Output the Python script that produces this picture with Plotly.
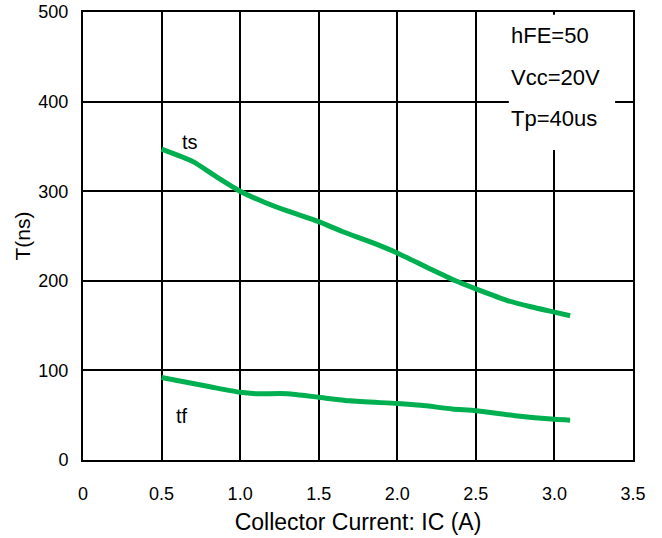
import plotly.graph_objects as go

# ---- data ----
ts_x = [0.5, 0.7, 0.85, 1.0, 1.15, 1.3, 1.5, 1.65, 1.85, 2.0, 2.2, 2.37, 2.5, 2.7, 2.85, 3.0, 3.1]
ts_y = [347, 333, 316, 300, 288, 278, 266, 255, 242, 231, 214, 200, 191, 178, 171, 165, 161]

tf_x = [0.5, 0.8, 1.0, 1.1, 1.3, 1.5, 1.7, 2.0, 2.15, 2.35, 2.5, 2.75, 3.0, 3.1]
tf_y = [92, 82, 75.5, 74, 74, 70, 66, 63, 61, 57, 55, 49.5, 45.5, 44.5]

x_tickvals = [0, 0.5, 1.0, 1.5, 2.0, 2.5, 3.0, 3.5]
x_ticktext = ["0", "0.5", "1.0", "1.5", "2.0", "2.5", "3.0", "3.5"]
y_tickvals = [0, 100, 200, 300, 400, 500]
y_ticktext = ["0", "100", "200", "300", "400", "500"]

cond_lines = ["hFE=50", "Vcc=20V", "Tp=40us"]
cond_y = [474, 427, 381]

FONT = "Liberation Sans, Arial, sans-serif"
GREEN = "#00b050"

fig = go.Figure()
fig.add_trace(go.Scatter(x=ts_x, y=ts_y, mode="lines", name="ts",
                         line=dict(color=GREEN, width=5, shape="spline", smoothing=0.6)))
fig.add_trace(go.Scatter(x=tf_x, y=tf_y, mode="lines", name="tf",
                         line=dict(color=GREEN, width=5, shape="spline", smoothing=0.6)))

# white box behind the test conditions (interrupts the grid)
fig.add_shape(type="rect", xref="x", yref="y", x0=2.71, x1=3.386, y0=346, y1=497,
              fillcolor="white", line=dict(width=0), layer="between")

for txt, yy in zip(cond_lines, cond_y):
    fig.add_annotation(x=2.71, y=yy, xref="x", yref="y", text=txt, showarrow=False,
                       xanchor="left", yanchor="middle",
                       font=dict(family=FONT, size=22, color="black"))

fig.add_annotation(x=0.68, y=355, xref="x", yref="y", text="ts", showarrow=False,
                   font=dict(family=FONT, size=20, color="black"))
fig.add_annotation(x=0.63, y=49, xref="x", yref="y", text="tf", showarrow=False,
                   font=dict(family=FONT, size=20, color="black"))

axis_common = dict(showgrid=True, gridcolor="black", gridwidth=1.5, automargin=False,
                   showline=True, linecolor="black", linewidth=2, mirror=True,
                   zeroline=False, ticks="", tickfont=dict(family=FONT, size=18, color="black"))

fig.update_xaxes(range=[0, 3.5], tickmode="array", tickvals=x_tickvals, ticktext=x_ticktext,
                 ticklabelstandoff=16,
                 title=dict(text="Collector Current: IC (A)", standoff=11,
                            font=dict(family=FONT, size=23, color="black")),
                 **axis_common)
fig.update_yaxes(range=[0, 500], tickmode="array", tickvals=y_tickvals, ticktext=y_ticktext,
                 ticklabelstandoff=9,
                 title=dict(text="T(ns)", standoff=2,
                            font=dict(family=FONT, size=21, color="black")),
                 **axis_common)

fig.update_layout(width=662, height=538, margin=dict(l=83, r=29, t=12, b=78),
                  paper_bgcolor="white", plot_bgcolor="white", showlegend=False,
                  font=dict(family=FONT, color="black"))

fig.write_html("out.html", config={"displayModeBar": False},
               post_script="document.body.style.margin='0';")
